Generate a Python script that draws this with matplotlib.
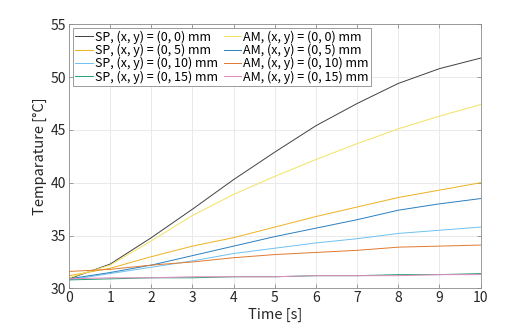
import matplotlib
matplotlib.use('Agg')
import matplotlib.pyplot as plt

plt.rcParams['font.family'] = ['Noto Sans CJK JP', 'DejaVu Sans']

# time axis [s], values every 1 s
time_s = [0, 1, 2, 3, 4, 5, 6, 7, 8, 9, 10]

sp_00 = [30.9, 32.3, 34.8, 37.5, 40.3, 42.9, 45.4, 47.5, 49.4, 50.8, 51.8]
sp_05 = [31.2, 31.9, 33.0, 34.0, 34.8, 35.8, 36.8, 37.7, 38.6, 39.3, 40.0]
sp_10 = [30.8, 31.4, 32.0, 32.6, 33.3, 33.8, 34.3, 34.7, 35.2, 35.5, 35.8]
sp_15 = [30.8, 30.9, 31.0, 31.0, 31.1, 31.1, 31.2, 31.2, 31.3, 31.3, 31.4]

am_00 = [31.0, 32.2, 34.5, 36.9, 38.9, 40.6, 42.2, 43.7, 45.1, 46.3, 47.4]
am_05 = [30.9, 31.5, 32.2, 33.1, 34.0, 34.9, 35.7, 36.5, 37.4, 38.0, 38.5]
am_10 = [31.6, 31.8, 32.2, 32.5, 32.9, 33.2, 33.4, 33.6, 33.9, 34.0, 34.1]
am_15 = [30.9, 31.0, 31.0, 31.1, 31.1, 31.1, 31.2, 31.2, 31.2, 31.3, 31.3]

series = [
	('SP, (x, y) = (0, 0) mm', sp_00, '#404040'),
	('SP, (x, y) = (0, 5) mm', sp_05, '#EDB120'),
	('SP, (x, y) = (0, 10) mm', sp_10, '#6EC1F0'),
	('SP, (x, y) = (0, 15) mm', sp_15, '#20A070'),
	('AM, (x, y) = (0, 0) mm', am_00, '#F2E260'),
	('AM, (x, y) = (0, 5) mm', am_05, '#2A7FC0'),
	('AM, (x, y) = (0, 10) mm', am_10, '#E07A30'),
	('AM, (x, y) = (0, 15) mm', am_15, '#E58AC0'),
]

fig = plt.figure(figsize=(5.31, 3.24), dpi=100)
ax = fig.add_axes([0.13, 0.11, 0.775, 0.815])

for label, vals, color in series:
	ax.plot(time_s, vals, color=color, lw=0.7, label=label)

ax.set_xlim(0, 10)
ax.set_ylim(30, 55)
ax.set_xticks(range(0, 11))
ax.set_yticks(range(30, 56, 5))
ax.grid(True, color='#e6e6e6', lw=0.6)
ax.set_axisbelow(True)

for sp in ax.spines.values():
	sp.set_color('#8c8c8c')
	sp.set_linewidth(0.6)
ax.tick_params(direction='in', top=True, right=True, length=3, width=0.6,
	color='#8c8c8c', labelsize=10, labelcolor='#262626', pad=2)

ax.set_xlabel('Time [s]', fontsize=10.5, color='#262626', labelpad=2)
ax.set_ylabel('Temparature [°C]', fontsize=10.5, color='#262626', labelpad=3)

leg = ax.legend(loc='upper left', ncol=2, fontsize=9, frameon=True, fancybox=False,
	labelspacing=0.0, handlelength=1.4, handletextpad=0.15, columnspacing=0.5,
	borderpad=0.2, borderaxespad=0.3, framealpha=1)
leg.get_frame().set_edgecolor('#8c8c8c')
leg.get_frame().set_linewidth(0.6)

fig.savefig('out.png', dpi=100)
